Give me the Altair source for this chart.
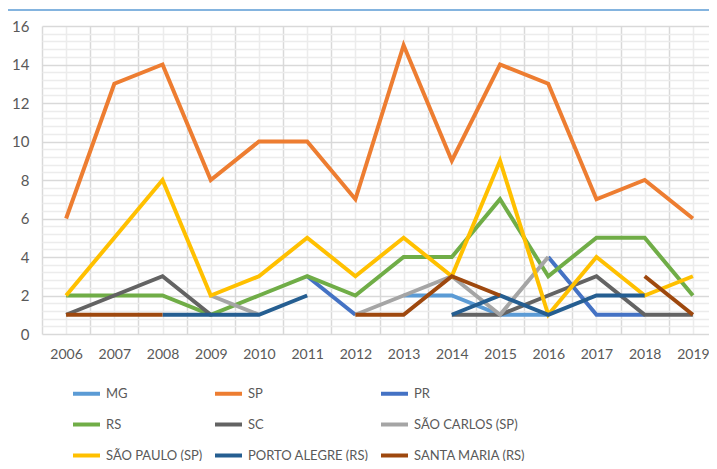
import altair as alt
import pandas as pd

years = list(range(2006, 2020))
series = ["MG", "SP", "PR", "RS", "SC", "SÃO CARLOS (SP)", "SÃO PAULO (SP)",
          "PORTO ALEGRE (RS)", "SANTA MARIA (RS)"]
colors = ["#5B9BD5", "#ED7D31", "#4472C4", "#70AD47", "#636363", "#A5A5A5",
          "#FFC000", "#255E91", "#9E480E"]
N = None
mg = [N, N, N, N, N, N, N, 2, 2, 1, 1, N, N, N]
sp = [6, 13, 14, 8, 10, 10, 7, 15, 9, 14, 13, 7, 8, 6]
pr = [N, N, N, N, N, 3, 1, N, N, N, 4, 1, 1, N]
rs = [2, 2, 2, 1, 2, 3, 2, 4, 4, 7, 3, 5, 5, 2]
sc = [1, 2, 3, 1, N, N, N, N, 1, 1, 2, 3, 1, 1]
sao_carlos = [N, N, N, 2, 1, N, 1, 2, 3, 1, 4, N, N, N]
sao_paulo = [2, 5, 8, 2, 3, 5, 3, 5, 3, 9, 1, 4, 2, 3]
porto_alegre = [N, N, 1, 1, 1, 2, N, N, 1, 2, 1, 2, 2, N]
santa_maria = [1, 1, 1, N, N, N, 1, 1, 3, 2, N, N, 3, 1]
values = [mg, sp, pr, rs, sc, sao_carlos, sao_paulo, porto_alegre, santa_maria]

rows = []
for si, (name, vals) in enumerate(zip(series, values)):
    seg = 0
    prev_none = True
    for y, v in zip(years, vals):
        if v is None:
            prev_none = True
            continue
        if prev_none:
            seg += 1
            prev_none = False
        rows.append({"year": y, "value": v, "series": name,
                     "seg": f"{si:02d}-{seg}", "ord": si})
df = pd.DataFrame(rows)

W, H = 667, 308
xvals = [2005.5 + 0.5 * k for k in range(29)]
yvals = [round(0.4 * k, 1) for k in range(41)]

font = "Lato"
lines = alt.Chart(df).mark_line(strokeWidth=4, clip=False).encode(
    x=alt.X("year:Q", scale=alt.Scale(domain=[2005.5, 2019.5], range=[0, 675], nice=False),
            axis=alt.Axis(values=xvals, title=None, ticks=False, domain=False,
                          labelExpr="datum.value % 1 == 0 ? datum.value : ''",
                          labelFontSize=14, labelColor="#595959", labelFont=font,
                          labelPadding=13, labelFlush=False, labelOverlap=False,
                          grid=True,
                          gridColor={"condition": {"test": "datum.value % 1 != 0", "value": "#d9d9d9"},
                                     "value": "#ececec"},
                          gridWidth=1.5)),
    y=alt.Y("value:Q", scale=alt.Scale(domain=[0, 16], nice=False),
            axis=alt.Axis(values=yvals, title=None, ticks=False, domain=False,
                          labelExpr="datum.value % 2 == 0 ? datum.value : ''",
                          labelFontSize=15, labelColor="#595959", labelFont=font,
                          labelPadding=13, labelOverlap=False,
                          grid=True,
                          gridColor={"condition": {"test": "datum.value % 2 == 0", "value": "#d9d9d9"},
                                     "value": "#ececec"},
                          gridWidth=1.5)),
    color=alt.Color("series:N", sort=series,
                    scale=alt.Scale(domain=series, range=colors),
                    legend=alt.Legend(title=None, orient="none", legendX=29, legendY=352,
                                      direction="horizontal",
                                      columns=3, symbolType="stroke", symbolSize=729,
                                      symbolStrokeWidth=4, labelFontSize=13,
                                      labelColor="#595959", labelFont=font,
                                      labelLimit=300, gridAlign="each",
                                      columnPadding=4, rowPadding=7, labelOffset=4,
                                      symbolOffset=0)),
    detail="seg:N",
    order=alt.Order("ord:Q"),
)

border = alt.Chart(pd.DataFrame({"a": [0]})).mark_rule(color="#5B9BD5", strokeWidth=1.5, clip=False).encode(
    x=alt.value(-37), y=alt.value(-16), y2=alt.value(440)
) + alt.Chart(pd.DataFrame({"a": [0]})).mark_rule(color="#5B9BD5", strokeWidth=1.5, clip=False).encode(
    x=alt.value(-37), x2=alt.value(700), y=alt.value(-16)
)

chart = alt.layer(lines, border).properties(
    width=W, height=H,
    autosize=alt.AutoSizeParams(type="none"),
    padding={"left": 34, "top": 18, "right": 0, "bottom": 127},
).configure_view(stroke=None)

chart.save("out.html", embed_options={"renderer": "svg", "actions": False})
